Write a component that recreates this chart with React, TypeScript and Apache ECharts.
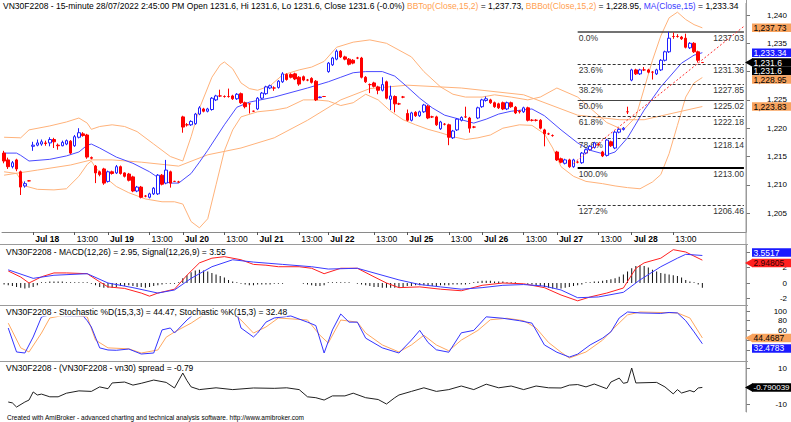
import React, { useEffect, useRef } from "react";
import * as echarts from "echarts";

// ---------------- categories (15-minute bars) ----------------
const morning = ["09:00", "09:15", "09:30", "09:45", "10:00", "10:15", "10:30", "10:45", "11:00", "11:15"];
const morningLong = [...morning, "11:30"];
const afternoon = ["13:00", "13:15", "13:30", "13:45", "14:00", "14:15", "14:30", "14:45"];
const sessions: [string, string[]][] = [
  ["Jul 15", afternoon.slice(1)],
  ["Jul 18", [...morning, ...afternoon]],
  ["Jul 19", [...morning, ...afternoon]],
  ["Jul 20", [...morning, ...afternoon]],
  ["Jul 21", [...morning, ...afternoon.slice(0, 7)]],
  ["Jul 22", [...morningLong, ...afternoon]],
  ["Jul 25", [...morning, ...afternoon]],
  ["Jul 26", [...morning, ...afternoon]],
  ["Jul 27", [...morning, ...afternoon]],
  ["Jul 28", [...morning, ...afternoon]],
];
const emptySlots = 10;

// ---------------- price bars [open, high, low, close] ----------------
const candles: number[][] = [
  // Jul 15
  [1215.6, 1216.0, 1213.8, 1214.2], [1214.4, 1214.8, 1212.8, 1213.2], [1213.2, 1214.2, 1212.9, 1213.9],
  [1214.4, 1214.6, 1212.4, 1212.8], [1212.3, 1212.5, 1208.2, 1209.6], [1209.8, 1210.6, 1209.5, 1210.2],
  [1210.7, 1210.8, 1210.6, 1210.7],
  // Jul 18
  [1216.8, 1217.6, 1216.0, 1217.0], [1217.0, 1218.0, 1216.8, 1217.4], [1217.2, 1218.0, 1216.9, 1217.6],
  [1217.4, 1217.8, 1216.9, 1217.3], [1217.4, 1218.4, 1216.8, 1218.0], [1218.0, 1218.3, 1216.5, 1217.6],
  [1217.0, 1217.3, 1216.2, 1216.9], [1216.9, 1217.8, 1216.8, 1217.5], [1217.2, 1218.0, 1217.0, 1217.8],
  [1217.7, 1217.9, 1215.4, 1215.6], [1216.9, 1218.8, 1216.7, 1218.5], [1218.4, 1220.0, 1218.2, 1219.2],
  [1219.0, 1219.3, 1218.5, 1218.7], [1218.8, 1219.0, 1214.6, 1214.9], [1214.8, 1215.0, 1214.5, 1214.7],
  [1213.3, 1213.5, 1210.3, 1212.1], [1212.3, 1212.5, 1211.5, 1211.8], [1212.8, 1213.0, 1210.0, 1210.3],
  // Jul 19
  [1210.6, 1212.5, 1210.4, 1212.3], [1212.3, 1212.5, 1211.8, 1212.0], [1212.1, 1213.5, 1211.9, 1213.2],
  [1213.2, 1213.4, 1211.8, 1212.0], [1212.1, 1212.2, 1211.3, 1211.5], [1211.9, 1212.1, 1210.6, 1210.8],
  [1211.4, 1211.6, 1208.7, 1208.9], [1208.9, 1209.8, 1208.7, 1209.6], [1209.6, 1209.8, 1207.6, 1207.8],
  [1208.0, 1208.2, 1207.8, 1208.0], [1207.8, 1208.6, 1207.6, 1208.4], [1208.4, 1209.6, 1208.2, 1209.4],
  [1208.4, 1211.9, 1208.2, 1211.7], [1211.7, 1211.9, 1209.9, 1210.1], [1210.3, 1214.4, 1210.1, 1212.6],
  [1212.3, 1212.5, 1209.5, 1210.3], [1210.6, 1210.7, 1210.5, 1210.6], [1210.5, 1210.7, 1210.4, 1210.5],
  // Jul 20
  [1222.0, 1222.2, 1219.2, 1220.2], [1220.6, 1220.9, 1220.3, 1220.6], [1220.6, 1221.4, 1220.4, 1221.2],
  [1220.8, 1222.7, 1220.6, 1222.5], [1222.5, 1223.9, 1222.3, 1223.6], [1223.4, 1223.6, 1222.8, 1223.0],
  [1223.0, 1223.6, 1222.8, 1223.4], [1223.3, 1225.5, 1223.1, 1225.3], [1225.0, 1225.9, 1224.8, 1225.7],
  [1225.7, 1226.8, 1225.5, 1225.7], [1225.6, 1225.8, 1225.4, 1225.6], [1225.6, 1227.0, 1225.4, 1225.6],
  [1225.7, 1225.9, 1225.0, 1225.2], [1225.2, 1226.2, 1225.0, 1226.0], [1226.1, 1226.3, 1224.3, 1224.5],
  [1224.5, 1224.7, 1223.5, 1223.8], [1224.3, 1224.4, 1222.6, 1224.3], [1223.0, 1223.1, 1222.9, 1223.0],
  // Jul 21
  [1223.4, 1225.5, 1223.2, 1225.3], [1225.3, 1226.4, 1225.1, 1226.2], [1226.1, 1227.5, 1225.9, 1227.3],
  [1227.1, 1227.7, 1226.9, 1227.5], [1227.1, 1227.4, 1226.6, 1227.1], [1227.2, 1228.5, 1227.0, 1228.3],
  [1228.2, 1229.9, 1228.0, 1229.6], [1229.5, 1229.7, 1228.4, 1228.6], [1229.5, 1229.7, 1228.8, 1229.0],
  [1229.6, 1229.8, 1228.5, 1228.7], [1229.0, 1229.2, 1227.5, 1227.8], [1229.1, 1229.3, 1228.3, 1228.5],
  [1228.5, 1228.7, 1228.3, 1228.5], [1228.8, 1229.0, 1227.9, 1228.1], [1228.3, 1228.5, 1224.8, 1225.0],
  [1225.4, 1225.6, 1225.3, 1225.5], [1225.6, 1225.7, 1225.5, 1225.6],
  // Jul 22
  [1230.0, 1231.7, 1229.8, 1231.5], [1231.2, 1232.6, 1231.0, 1232.4], [1232.2, 1233.9, 1232.0, 1233.6],
  [1233.6, 1233.8, 1232.4, 1232.6], [1232.6, 1232.8, 1232.0, 1232.2], [1232.2, 1232.4, 1231.1, 1231.3],
  [1232.0, 1232.2, 1231.3, 1231.5], [1232.4, 1232.6, 1232.2, 1232.4], [1232.4, 1232.6, 1228.8, 1229.0],
  [1229.0, 1229.2, 1228.0, 1228.2], [1227.7, 1227.9, 1226.2, 1227.7], [1228.0, 1228.2, 1227.2, 1227.4],
  [1227.3, 1227.5, 1226.0, 1226.7], [1226.7, 1229.0, 1226.5, 1227.7], [1228.2, 1228.4, 1225.1, 1225.3],
  [1225.1, 1227.5, 1223.2, 1225.7], [1225.6, 1225.8, 1222.8, 1224.3], [1224.3, 1224.5, 1224.1, 1224.3],
  [1225.5, 1225.7, 1225.3, 1225.5],
  // Jul 25
  [1222.6, 1223.3, 1221.2, 1221.4], [1221.4, 1222.9, 1221.2, 1222.7], [1222.8, 1223.0, 1222.0, 1222.2],
  [1222.2, 1223.1, 1222.0, 1222.9], [1222.9, 1224.3, 1222.7, 1224.1], [1223.9, 1224.1, 1221.6, 1221.8],
  [1222.0, 1222.2, 1221.8, 1222.0], [1222.0, 1222.2, 1220.4, 1220.6], [1219.9, 1221.3, 1219.7, 1221.1],
  [1220.7, 1220.9, 1220.5, 1220.7], [1220.6, 1220.8, 1217.0, 1218.4], [1218.3, 1219.7, 1218.1, 1219.5],
  [1219.7, 1221.8, 1219.5, 1221.6], [1221.4, 1222.1, 1221.2, 1221.9], [1222.0, 1223.8, 1221.8, 1222.0],
  [1221.8, 1222.0, 1219.2, 1220.0], [1220.2, 1220.4, 1220.0, 1220.2], [1221.8, 1223.8, 1221.6, 1223.6],
  // Jul 26
  [1223.8, 1225.2, 1223.6, 1225.0], [1224.9, 1225.6, 1224.7, 1225.2], [1225.0, 1225.2, 1224.3, 1224.5],
  [1224.5, 1224.7, 1223.6, 1223.8], [1224.3, 1224.5, 1223.4, 1223.6], [1224.5, 1224.7, 1223.2, 1223.4],
  [1223.4, 1224.7, 1223.2, 1224.5], [1224.5, 1224.7, 1223.6, 1223.8], [1223.7, 1223.9, 1222.5, 1222.7],
  [1223.0, 1223.2, 1222.6, 1222.9], [1222.9, 1223.8, 1222.7, 1223.6], [1223.6, 1223.8, 1221.2, 1221.4],
  [1221.4, 1221.6, 1221.2, 1221.4], [1221.4, 1221.6, 1221.2, 1221.4], [1221.4, 1221.6, 1219.8, 1220.0],
  [1219.7, 1219.9, 1216.8, 1219.0], [1219.0, 1219.2, 1218.8, 1219.0], [1218.7, 1218.9, 1218.5, 1218.7],
  // Jul 27
  [1215.8, 1216.0, 1214.2, 1214.4], [1214.6, 1214.8, 1213.8, 1214.0], [1213.8, 1214.6, 1213.6, 1214.4],
  [1214.4, 1214.6, 1213.0, 1213.2], [1213.2, 1214.6, 1213.0, 1214.4], [1214.0, 1214.2, 1213.8, 1214.0],
  [1213.9, 1215.8, 1213.7, 1215.6], [1215.6, 1216.4, 1215.4, 1216.2], [1216.2, 1217.0, 1216.0, 1216.8],
  [1216.6, 1217.6, 1216.4, 1217.4], [1217.1, 1217.4, 1216.9, 1217.1], [1215.8, 1216.0, 1214.9, 1215.1],
  [1215.2, 1218.1, 1215.0, 1217.9], [1217.6, 1217.8, 1216.7, 1216.9], [1216.5, 1219.5, 1216.3, 1219.3],
  [1219.3, 1220.0, 1219.1, 1219.8], [1219.8, 1220.2, 1219.6, 1220.0], [1222.9, 1223.8, 1222.5, 1222.9],
  // Jul 28
  [1228.5, 1230.5, 1228.3, 1230.3], [1230.3, 1230.5, 1229.4, 1229.6], [1229.6, 1230.5, 1229.4, 1230.3],
  [1230.3, 1230.8, 1230.1, 1230.3], [1230.3, 1230.5, 1229.7, 1229.9], [1229.9, 1230.1, 1228.6, 1229.9],
  [1229.6, 1230.5, 1229.4, 1230.3], [1230.3, 1232.2, 1230.1, 1232.0], [1232.0, 1233.7, 1231.8, 1233.5],
  [1233.5, 1237.03, 1233.3, 1235.9], [1236.2, 1236.9, 1235.8, 1236.2], [1236.2, 1236.6, 1236.0, 1236.2],
  [1236.1, 1236.3, 1235.6, 1235.8], [1235.9, 1236.7, 1234.1, 1234.3], [1234.2, 1235.2, 1234.0, 1235.0],
  [1235.0, 1235.2, 1233.3, 1233.5], [1233.5, 1233.7, 1231.6, 1232.0], [1231.6, 1231.6, 1231.6, 1231.6],
];

// ---------------- overlay lines [bar, value] ----------------
const ma15 = [
  [0, 1215.6], [3, 1215.6], [4, 1215.2], [6, 1214.2], [11, 1214.5], [15, 1215.1], [18, 1215.8], [20, 1217.0],
  [21, 1217.2], [23, 1216.5], [27, 1214.9], [31, 1213.8], [35, 1212.3], [38, 1210.8], [40, 1210.3], [42, 1210.3],
  [45, 1212.0], [47, 1214.0], [49, 1216.1], [53, 1220.6], [56, 1223.7], [59, 1224.6], [65, 1225.5], [73, 1227.1],
  [78, 1228.2], [81, 1229.0], [84, 1229.8], [87, 1230.0], [91, 1230.0], [94, 1229.2], [97, 1227.3], [100, 1225.3],
  [103, 1223.6], [106, 1222.3], [110, 1221.5], [113, 1220.9], [116, 1221.6], [119, 1222.5], [122, 1223.0],
  [127, 1223.4], [130, 1222.2], [134, 1219.7], [138, 1217.4], [141, 1216.1], [145, 1215.3], [147, 1215.8],
  [150, 1218.3], [154, 1223.2], [158, 1227.3], [163, 1231.5], [166, 1232.9], [168, 1233.34],
];
const bbTop = [
  [0, 1218.4], [4, 1218.3], [6, 1219.7], [11, 1220.4], [15, 1221.1], [18, 1221.8], [20, 1220.9], [21, 1219.8],
  [23, 1220.3], [26, 1220.6], [29, 1220.3], [32, 1219.4], [36, 1217.2], [40, 1215.0], [43, 1214.2], [45, 1218.5],
  [47, 1223.5], [50, 1229.0], [52, 1231.2], [53, 1231.7], [55, 1230.5], [57, 1228.0], [59, 1227.0], [61, 1226.7],
  [64, 1227.5], [67, 1229.4], [71, 1230.3], [74, 1230.8], [77, 1231.8], [80, 1234.3], [84, 1235.2], [88, 1235.6],
  [92, 1235.0], [95, 1233.8], [98, 1232.6], [101, 1230.0], [105, 1227.3], [108, 1226.0], [111, 1225.5],
  [115, 1225.5], [118, 1225.9], [122, 1225.5], [126, 1225.0], [129, 1225.5], [133, 1227.1], [138, 1225.5],
  [145, 1221.0], [149, 1219.7], [152, 1222.0], [154, 1227.0], [156, 1232.0], [158, 1236.3], [160, 1239.5],
  [162, 1240.5], [164, 1239.2], [166, 1238.3], [168, 1237.73],
];
const bbBot = [
  [0, 1212.3], [3, 1212.0], [5, 1209.8], [8, 1209.2], [12, 1209.1], [15, 1209.3], [18, 1211.5], [20, 1213.6],
  [21, 1214.2], [22, 1213.0], [24, 1211.5], [27, 1209.7], [30, 1208.6], [34, 1207.5], [38, 1207.0], [41, 1207.0],
  [43, 1206.6], [45, 1203.5], [47, 1202.4], [49, 1204.0], [51, 1210.0], [53, 1216.0], [55, 1219.7], [57, 1222.0],
  [61, 1222.9], [65, 1223.2], [68, 1223.6], [72, 1225.0], [75, 1225.0], [78, 1224.8], [81, 1224.0], [84, 1224.5],
  [87, 1226.0], [90, 1225.0], [93, 1223.0], [96, 1221.5], [99, 1220.6], [102, 1219.8], [105, 1219.2],
  [108, 1218.5], [111, 1218.0], [114, 1218.3], [117, 1218.8], [120, 1220.0], [124, 1220.6], [127, 1220.5],
  [130, 1219.0], [132, 1216.5], [134, 1213.2], [137, 1211.5], [140, 1210.6], [144, 1210.2], [147, 1209.8],
  [150, 1209.5], [153, 1209.3], [156, 1210.5], [158, 1211.8], [160, 1215.5], [162, 1220.5], [164, 1225.5],
  [166, 1228.0], [168, 1228.95],
];
const slowAvg = [
  [0, 1211.7], [8, 1212.6], [16, 1213.5], [21, 1214.4], [26, 1214.4], [33, 1214.0], [42, 1213.3], [49, 1215.3],
  [57, 1216.5], [65, 1218.3], [73, 1221.4], [81, 1225.0], [88, 1227.0], [97, 1227.6], [110, 1227.1],
  [125, 1225.9], [138, 1222.3], [148, 1221.5], [154, 1221.5], [160, 1222.5], [168, 1223.83],
];
const trendPoints = [[137, 1213.8], [178, 1238.0]];

// Fibonacci retracement
const fibStartBar = 138;
const fibEndBar = 178;
const fibPct = ["0.0%", "23.6%", "38.2%", "50.0%", "61.8%", "78.6%", "100.0%", "127.2%"];
const fibVal = [1237.03, 1231.36, 1227.85, 1225.02, 1222.18, 1218.14, 1213.0, 1206.46];

// ---------------- MACD ----------------
const macdLine = [
  [1, 1.55], [4, 0.77], [6, 0.0], [9, 0.8], [12, 1.3], [15, 1.3], [20, 1.2], [23, 0.15], [25, -0.5], [29, -0.7],
  [33, -1.3], [35, -1.7], [37, -1.3], [41, -0.8], [44, 1.0], [47, 2.6], [50, 3.2], [53, 3.4], [57, 3.0], [60, 2.4],
  [63, 2.3], [66, 2.1], [71, 2.1], [74, 1.9], [77, 1.2], [81, 1.9], [85, 1.9], [89, 0.8], [92, 0.0], [95, -0.6],
  [100, -0.5], [105, -0.8], [110, -1.0], [115, -0.3], [120, 0.0], [125, -0.1], [130, -0.6], [134, -1.55],
  [138, -2.3], [141, -1.8], [145, -1.3], [149, -0.65], [152, 1.9], [154, 2.6], [158, 3.2], [161, 4.3],
  [164, 4.0], [168, 2.94805],
];
const signalLine = [
  [1, 1.7], [7, 0.6], [12, 1.0], [20, 1.2], [25, 0.0], [31, -0.6], [37, -1.3], [41, -0.9], [45, 0.6], [50, 2.1],
  [55, 3.0], [60, 2.7], [67, 2.4], [74, 2.1], [78, 1.8], [85, 1.9], [89, 1.3], [95, 0.4], [100, -0.2],
  [105, -0.5], [110, -0.8], [115, -0.6], [120, -0.3], [125, -0.2], [130, -0.4], [134, -0.9], [138, -1.9],
  [143, -1.8], [149, -1.2], [153, 0.4], [158, 2.1], [162, 3.2], [164, 3.7], [168, 3.5517],
];
const macdHist = [
  -0.2, -0.3, -0.4, -0.5, -0.6, -0.7, -0.6, -0.5, -0.3,
  0.1, 0.1, 0.2, 0.2, 0.2, 0.2, 0.1, 0.1, 0.1, 0.1, 0.1, 0.1,
  -0.1, -0.3, -0.5, -0.6, -0.6, -0.6, -0.5, -0.4, -0.4, -0.3, -0.4, -0.5, -0.5, -0.6, -0.5, -0.4, -0.3, -0.2, -0.1, -0.1, -0.1, 0.1,
  0.6, 1.0, 1.4, 1.6, 1.7, 1.6, 1.5, 1.3, 1.1, 0.9, 0.7, 0.4, 0.2, 0.1, -0.1, -0.2, -0.3, -0.3,
  -0.2, -0.2, -0.2, -0.2, -0.1, -0.1, -0.1, 0, 0, 0, 0, -0.1, -0.2, -0.3, -0.4, -0.4, -0.3,
  0.1, 0.1, 0.1, 0.1, 0.1, 0.1, 0.0, -0.1, -0.2, -0.3, -0.4, -0.5, -0.5, -0.6, -0.6, -0.6, -0.6, -0.6, -0.5,
  -0.4, -0.4, -0.3, -0.3, -0.3, -0.4, -0.4, -0.4, -0.3, -0.3, -0.3, -0.2, -0.2, -0.2, -0.2, -0.1, 0.1, 0.2,
  0.3, 0.3, 0.3, 0.2, 0.2, 0.2, 0.1, 0.1, 0.1, 0.0, 0.0, -0.1, -0.2, -0.3, -0.4, -0.5, -0.6, -0.7,
  -0.7, -0.7, -0.6, -0.5, -0.4, -0.3, -0.2, 0.1, 0.1, 0.2, 0.2, 0.3, 0.4, 0.5, 0.6, 0.8, 1.1, 1.5,
  1.9, 2.2, 2.3, 2.2, 2.0, 1.7, 1.5, 1.3, 1.2, 1.1, 1.0, 0.9, 0.7, 0.4, 0.2, 0.1, -0.2, -0.6,
];

// ---------------- Stochastic ----------------
const stochK = [
  [1, 64.9], [3, 15.5], [5, 13.4], [7, 46.4], [9, 87.6], [11, 92], [15, 90], [19, 90], [20, 80], [21, 67],
  [23, 24], [25, 19.6], [27, 19], [30, 21.6], [33, 11.3], [36, 13.4], [38, 61], [40, 65], [41, 54.6], [44, 81.4],
  [46, 96], [50, 98], [55, 97], [56, 96], [57, 65], [60, 46.4], [61, 54.6], [63, 77], [65, 85.6], [69, 89.7],
  [73, 77], [75, 70], [77, 13.4], [79, 61], [81, 93.8], [83, 77], [85, 77], [87, 44], [91, 24], [95, 13.4],
  [98, 40], [100, 60], [102, 35], [104, 20], [107, 15], [110, 55], [113, 60], [116, 88], [120, 85], [124, 80],
  [127, 75], [130, 30], [133, 15], [136, 5], [138, 11], [141, 30], [144, 44], [146, 57], [148, 85.6], [150, 98],
  [153, 96], [158, 95], [160, 97], [162, 96], [164, 80], [166, 57], [168, 32.4783],
];
const stochD = [
  [1, 75], [4, 24], [6, 15.5], [9, 54.6], [11, 85.6], [15, 92], [20, 88], [22, 40], [25, 24], [30, 22],
  [33, 13.4], [37, 19.6], [39, 46], [41, 56.7], [45, 75], [48, 92], [55, 96], [57, 81.4], [60, 54.6], [63, 67],
  [66, 85.6], [73, 81.4], [76, 50], [78, 34], [81, 81.4], [85, 77], [87, 54.6], [91, 30], [95, 15.5], [98, 30],
  [101, 50], [104, 30], [107, 18], [110, 40], [114, 60], [117, 82], [121, 85], [125, 80], [128, 65], [131, 35],
  [134, 15], [136, 3], [140, 15.5], [144, 40], [147, 67], [150, 92], [153, 98], [162, 96], [165, 85.6],
  [168, 44.4687],
];

// ---------------- Spread ----------------
const spread = [
  [1, -8.9], [2, -9.4], [3, -11.7], [5, -8.9], [6, -7.8], [7, -3.3], [8, -5], [9, -4.5], [11, -6], [13, -6],
  [15, -4], [18, -2.7], [21, -3], [23, -0.5], [25, -1.5], [26, 1.7], [29, 2.2], [31, 0.5], [33, 1.5], [36, 3.3],
  [39, 2.0], [41, -1.1], [43, 7.2], [44, 3], [45, -0.5], [47, -2], [51, -1], [55, -2], [60, -1.1], [65, -1.3],
  [68, -1.0], [71, -2], [73, -6], [75, -6.5], [77, -7.8], [79, -5.5], [82, -5.5], [84, -4], [87, -6.5],
  [90, -7.5], [92, -10], [94, -6.5], [95, -5], [98, -3], [101, -1], [104, -3], [107, -2], [110, 0], [113, -2],
  [116, 1], [119, -1], [122, 0], [125, -2], [128, 0], [131, -1], [134, -1.1], [136, 0.5], [138, 0.8],
  [140, -0.5], [142, 1.1], [145, -1.5], [146, 2.2], [148, 4.4], [149, 1.5], [150, 2.0], [151, 10], [152, 1.7],
  [157, 2], [159, -0.5], [161, -4.4], [162, -2], [163, -3.9], [165, -2.5], [166, -3.3], [167, -1.1],
  [168, -0.790039],
];

// ---------------- tick labels (those not hidden behind the value boxes) ----------------
const priceTicks = [1205, 1210, 1215, 1220, 1225, 1230, 1235, 1240];
const priceLabels = [1205, 1210, 1215, 1220, 1225, 1235, 1240];
const macdTicks = [-2, 0, 2, 4];
const macdLabels = [-2, 0, 2];
const stochTicks = [20, 40, 60, 80, 100];
const stochLabels = [60, 80, 100];
const spreadTicks = [-10, 0, 10];
const spreadLabels = [-10, 10];

// ---------------- styling ----------------
const W = 791;
const H = 422;
const FONT = "Arial, 'Liberation Sans', sans-serif";
const FS = 8.5;
const AXFS = 8;
const ORANGE = "#ffb27a";
const ORANGE_BOX = "#f8a35e";
const BLUE_MA = "#4b4bff";
const fibStyles = [
  { type: "solid", width: 1.5, color: "#444" },
  { type: [3, 2], width: 1, color: "#333" },
  { type: [3, 2], width: 1, color: "#333" },
  { type: "solid", width: 1, color: "#444" },
  { type: [3, 2], width: 1, color: "#333" },
  { type: [3, 2], width: 1, color: "#333" },
  { type: "solid", width: 2, color: "#000" },
  { type: [3, 2], width: 1, color: "#333" },
];

const grids = [
  { left: 2, width: 744, top: 0, height: 232 },
  { left: 2, width: 744, top: 245, height: 60 },
  { left: 2, width: 744, top: 306, height: 56 },
  { left: 2, width: 744, top: 362, height: 50 },
];
// axis scales (pixel calibration of each pane)
const yRanges = [
  { min: 1240 - 217 / 5.66, max: 1240 + 15 / 5.66 },
  { min: -22 / 7.75, max: 38 / 7.75 },
  { min: -2.5 / 0.485, max: 100 + 5 / 0.485 },
  { min: -26 / 1.8, max: 24 / 1.8 },
];
// how overlapping value boxes are separated in each pane, and their spacing
const boxMode = ["down", "spread", "down", "down"];
const boxGap = [8.5, 10.5, 10.5, 8.5];

const last = (a: number[][]) => a[a.length - 1][1];
const comma = (v: number, d: number) =>
  v.toLocaleString("en-US", { minimumFractionDigits: d, maximumFractionDigits: d });

export default function App() {
  const ref = useRef<HTMLDivElement>(null);
  useEffect(() => {
    const el = ref.current!;
    const chart = echarts.init(el, null, { renderer: "svg", width: W, height: H });

    const categories: string[] = [];
    const showIdx = new Set<number>();
    const labelText: Record<number, string> = {};
    sessions.forEach(([day, times], d) => {
      times.forEach((t, k) => {
        const idx = categories.length;
        categories.push(day + " " + t);
        if (d > 0 && k === 0) {
          showIdx.add(idx);
          labelText[idx] = "{b|" + day + "}";
        } else if (t === "13:00" && d > 0) {
          showIdx.add(idx);
          labelText[idx] = "13:00";
        }
      });
    });
    for (let k = 0; k < emptySlots; k++) categories.push("");

    const ohlc = candles.map(([o, h, l, c]) => [o, c, l, h]);

    const xAxes = grids.map((_, g) => ({
      type: "category",
      gridIndex: g,
      data: categories,
      boundaryGap: true,
      show: g === 0,
      axisLine: { show: true, lineStyle: { color: "#8a8a8a", width: 1 } },
      axisTick: {
        show: true,
        alignWithLabel: true,
        length: 3,
        interval: (i: number) => showIdx.has(i),
        lineStyle: { color: "#555" },
      },
      axisLabel: {
        show: true,
        interval: (i: number) => showIdx.has(i),
        formatter: (_v: string, i: number) => labelText[i] || "",
        align: "left",
        margin: 2,
        padding: [0, 0, 0, 2],
        fontSize: FS,
        fontFamily: FONT,
        color: "#000",
        rich: { b: { fontWeight: "bold", fontSize: FS, fontFamily: FONT, color: "#000" } },
      },
      splitLine: { show: false },
    }));

    const tickSets = [priceTicks, macdTicks, stochTicks, spreadTicks];
    const labelSets = [priceLabels, macdLabels, stochLabels, spreadLabels];
    const yAxes = grids.map((_, g) => ({
      type: "value",
      gridIndex: g,
      position: "right",
      min: yRanges[g].min,
      max: yRanges[g].max,
      scale: true,
      axisLine: { show: true, lineStyle: { color: "#9a9a9a" } },
      axisTick: { show: true, length: 4, customValues: tickSets[g], lineStyle: { color: "#777" } },
      axisLabel: {
        show: true,
        customValues: labelSets[g],
        align: "right",
        margin: 41,
        fontSize: AXFS,
        fontFamily: FONT,
        color: "#000",
        formatter: (v: number) => (g === 0 ? comma(v, 0) : String(v)),
      },
      splitLine: { show: false },
    }));

    const line = (data: number[][], color: string, g: number, extra: any = {}) => ({
      type: "line",
      xAxisIndex: g,
      yAxisIndex: g,
      data,
      symbol: "none",
      showSymbol: false,
      smooth: false,
      lineStyle: { color, width: 1, ...(extra.lineStyle || {}) },
      z: extra.z ?? 3,
      silent: true,
    });

    const fibLineData = fibVal.map((v, k) => [
      {
        coord: [fibStartBar, v],
        lineStyle: fibStyles[k],
        label: {
          show: true,
          position: "insideStartBottom",
          formatter: fibPct[k],
          fontSize: FS,
          fontFamily: FONT,
          color: "#333",
          distance: [1, 2],
        },
      },
      { coord: [fibEndBar, v] },
    ]);
    const fibValueData = fibVal.map((v) => [
      {
        coord: [fibStartBar, v],
        lineStyle: { color: "rgba(0,0,0,0)", width: 1 },
        label: {
          show: true,
          position: "insideEndBottom",
          formatter: v.toFixed(2),
          fontSize: FS,
          fontFamily: FONT,
          color: "#333",
          distance: [0, 2],
        },
      },
      { coord: [fibEndBar, v] },
    ]);

    const option: any = {
      animation: false,
      backgroundColor: "#fff",
      textStyle: { fontFamily: FONT },
      grid: grids,
      xAxis: xAxes,
      yAxis: yAxes,
      series: [
        line(slowAvg, ORANGE, 0, { z: 2 }),
        line(bbTop, ORANGE, 0, { z: 2 }),
        line(bbBot, ORANGE, 0, { z: 2 }),
        line(ma15, BLUE_MA, 0, { z: 4 }),
        {
          type: "candlestick",
          xAxisIndex: 0,
          yAxisIndex: 0,
          data: ohlc,
          barWidth: 3,
          z: 5,
          silent: true,
          itemStyle: {
            color: "#ffffff",
            color0: "#ff0000",
            borderColor: "#2020ff",
            borderColor0: "#ff0000",
            borderColorDoji: "#ff0000",
            borderWidth: 1,
          },
        },
        line(trendPoints, "#ff3030", 0, { z: 6, lineStyle: { type: [2, 2] } }),
        {
          type: "line",
          xAxisIndex: 0,
          yAxisIndex: 0,
          data: [],
          z: 6,
          markLine: { symbol: ["none", "none"], silent: true, animation: false, data: fibLineData },
        },
        {
          type: "line",
          xAxisIndex: 0,
          yAxisIndex: 0,
          data: [],
          z: 7,
          markLine: { symbol: ["none", "none"], silent: true, animation: false, data: fibValueData },
        },
        {
          type: "bar",
          xAxisIndex: 1,
          yAxisIndex: 1,
          data: macdHist,
          barWidth: 1,
          itemStyle: { color: "#111" },
          silent: true,
          z: 2,
        },
        line(macdLine, "#ff2020", 1),
        line(signalLine, "#3a3aff", 1),
        line(stochD, "#ffa860", 2),
        line(stochK, "#3434ff", 2),
        line(spread, "#202020", 3),
      ],
    };
    chart.setOption(option);

    // ---------- graphics: titles, separators, value boxes ----------
    const lastBar = candles[candles.length - 1];
    const prevClose = candles[candles.length - 2][3];
    const chg = ((lastBar[3] - prevClose) / prevClose) * 100;
    const f1 = (v: number) => v.toFixed(1);
    const mainPrefix =
      "VN30F2208 - 15-minute 28/07/2022 2:45:00 PM Open " + f1(lastBar[0]) + ", Hi " + f1(lastBar[1]) +
      ", Lo " + f1(lastBar[2]) + ", Close " + f1(lastBar[3]) + " (" + chg.toFixed(1) + "%) ";

    const richBase = { fontSize: FS, fontFamily: FONT };
    const titleText = (x: number, y: number, text: string, rich: any) => ({
      type: "text",
      x,
      y,
      z: 100,
      silent: true,
      style: {
        text,
        fontSize: FS,
        fontFamily: FONT,
        fill: "#000",
        backgroundColor: "#fff",
        rich,
      },
    });

    const graphics: any[] = [];
    graphics.push(
      titleText(
        3,
        1,
        "{k|" + mainPrefix + "}{o|BBTop(Close,15,2)}{k| = " + comma(last(bbTop), 2) + ", }{o|BBBot(Close,15,2)}{k| = " +
          comma(last(bbBot), 2) + ", }{b|MA(Close,15)}{k| = " + comma(last(ma15), 2) + "}",
        {
          k: { ...richBase, fill: "#000", color: "#000" },
          o: { ...richBase, fill: "#ffa050", color: "#ffa050" },
          b: { ...richBase, fill: "#3a3aff", color: "#3a3aff" },
        }
      )
    );
    graphics.push(
      titleText(
        6,
        247,
        "{k|VN30F2208 - }{r|MACD(12,26)}{k| = " + last(macdLine).toFixed(2) + ", }{b|Signal(12,26,9)}{k| = " +
          last(signalLine).toFixed(2) + "}",
        {
          k: { ...richBase, color: "#000" },
          r: { ...richBase, color: "#ff2020" },
          b: { ...richBase, color: "#3a3aff" },
        }
      )
    );
    graphics.push(
      titleText(
        6,
        307.5,
        "{k|VN30F2208 - }{o|Stochastic %D(15,3,3)}{k| = " + last(stochD).toFixed(2) + ", }{b|Stochastic %K(15,3)}{k| = " +
          last(stochK).toFixed(2) + "}",
        {
          k: { ...richBase, color: "#000" },
          o: { ...richBase, color: "#ffa050" },
          b: { ...richBase, color: "#3a3aff" },
        }
      )
    );
    graphics.push(
      titleText(6, 363.5, "{k|VN30F2208 - (VN30F2208 - vn30) spread = " + last(spread).toFixed(2) + "}", {
        k: { ...richBase, color: "#000" },
      })
    );
    // clip title at plot edge
    graphics.push({ type: "rect", z: 101, silent: true, shape: { x: 747, y: 0, width: 44, height: 11 }, style: { fill: "#fff" } });

    // pane separators and continuous right axis line
    [244.5, 305.5, 361.5].forEach((y) =>
      graphics.push({
        type: "line",
        z: 90,
        silent: true,
        shape: { x1: 0, y1: y, x2: 748, y2: y },
        style: { stroke: "#9a9a9a", lineWidth: 1 },
      })
    );
    graphics.push({
      type: "line",
      z: 90,
      silent: true,
      shape: { x1: 746, y1: 3, x2: 746, y2: 412 },
      style: { stroke: "#9a9a9a", lineWidth: 1 },
    });

    // footer
    graphics.push({
      type: "text",
      x: 7,
      y: 414,
      z: 100,
      silent: true,
      style: {
        text: "Created with AmiBroker - advanced charting and technical analysis software. http://www.amibroker.com",
        fontSize: 6.5,
        fontFamily: FONT,
        fill: "#000",
      },
    });

    // value boxes on the right axis
    type Box = { g: number; v: number; text: string; bg: string; fg: string; notch: boolean };
    const closeLast = lastBar[3];
    const boxes: Box[] = [
      { g: 0, v: last(bbTop), text: comma(last(bbTop), 2), bg: ORANGE_BOX, fg: "#000", notch: false },
      { g: 0, v: last(ma15), text: comma(last(ma15), 2), bg: "#1a1aff", fg: "#fff", notch: false },
      { g: 0, v: closeLast, text: comma(closeLast, 1), bg: "#000", fg: "#fff", notch: true },
      { g: 0, v: closeLast, text: comma(closeLast, 1), bg: "#000", fg: "#fff", notch: false },
      { g: 0, v: last(bbBot), text: comma(last(bbBot), 2), bg: ORANGE_BOX, fg: "#000", notch: false },
      { g: 0, v: last(slowAvg), text: comma(last(slowAvg), 2), bg: ORANGE_BOX, fg: "#000", notch: false },
      { g: 1, v: last(signalLine), text: String(last(signalLine)), bg: "#1a1aff", fg: "#fff", notch: false },
      { g: 1, v: last(macdLine), text: String(last(macdLine)), bg: "#ff2020", fg: "#300", notch: true },
      { g: 2, v: last(stochD), text: String(last(stochD)), bg: ORANGE_BOX, fg: "#000", notch: true },
      { g: 2, v: last(stochK), text: String(last(stochK)), bg: "#1a1aff", fg: "#fff", notch: false },
      { g: 3, v: last(spread), text: String(last(spread)), bg: "#000", fg: "#fff", notch: true },
    ];
    const BH = 8.5;
    const placed: { b: Box; y: number }[] = boxes.map((b) => {
      const p = chart.convertToPixel({ yAxisIndex: b.g } as any, b.v) as any;
      return { b, y: typeof p === "number" ? p : p[1] };
    });
    [0, 1, 2, 3].forEach((g) => {
      const items = placed.filter((p) => p.b.g === g);
      const gap = boxGap[g];
      if (boxMode[g] === "down") {
        const order = items.map((p, k) => k).sort((a, b) => items[a].y - items[b].y || a - b);
        let prev = -Infinity;
        order.forEach((k) => {
          if (items[k].y < prev + gap) items[k].y = prev + gap;
          prev = items[k].y;
        });
      } else {
        const ideal = items.map((p) => p.y);
        let clusters = items.map((p, k) => ({ members: [k], center: ideal[k] }));
        let changed = true;
        while (changed) {
          changed = false;
          clusters.sort((a, b) => a.center - b.center);
          for (let c = 0; c < clusters.length - 1; c++) {
            const A = clusters[c];
            const B = clusters[c + 1];
            if (A.center + (A.members.length * gap) / 2 > B.center - (B.members.length * gap) / 2 + 0.01) {
              const members = [...A.members, ...B.members];
              const center = members.reduce((s, m) => s + ideal[m], 0) / members.length;
              clusters.splice(c, 2, { members, center });
              changed = true;
              break;
            }
          }
        }
        clusters.forEach((c) => {
          const start = c.center - (c.members.length * gap) / 2;
          c.members.forEach((m, j) => {
            items[m].y = start + gap * j + gap / 2;
          });
        });
      }
    });
    placed.forEach(({ b, y }) => {
      graphics.push({
        type: "rect",
        z: 110,
        silent: true,
        shape: { x: 752, y: y - BH / 2, width: 40, height: BH },
        style: { fill: b.bg },
      });
      if (b.notch) {
        graphics.push({
          type: "polygon",
          z: 110,
          silent: true,
          shape: { points: [[745, y], [752.5, y - BH / 2], [752.5, y + BH / 2]] },
          style: { fill: b.bg },
        });
      }
      graphics.push({
        type: "text",
        z: 111,
        silent: true,
        x: 753.5,
        y: y,
        style: {
          text: b.text,
          fontSize: b.text.length > 8 ? 8 : FS,
          fontFamily: FONT,
          fill: b.fg,
          verticalAlign: "middle",
          align: "left",
        },
      });
    });

    chart.setOption({ graphic: { elements: graphics } });
    return () => chart.dispose();
  }, []);

  return (
    <div
      ref={ref}
      style={{ position: "fixed", left: 0, top: 0, width: W, height: H, background: "#fff" }}
    />
  );
}
